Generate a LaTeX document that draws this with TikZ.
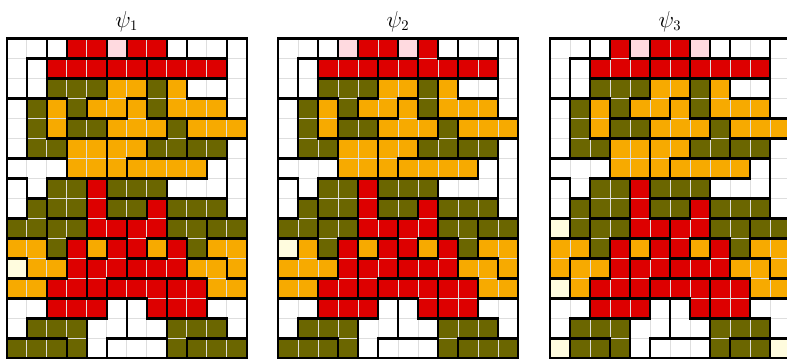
\documentclass[tikz,border=0pt]{standalone}
\usepackage{amsmath}
\usepackage{tikz}

\definecolor{cW}{RGB}{255,255,255}
\definecolor{cR}{RGB}{221,0,0}
\definecolor{cO}{RGB}{107,102,0}
\definecolor{cY}{RGB}{247,170,0}
\definecolor{cP}{RGB}{255,218,224}
\definecolor{cL}{RGB}{255,252,222}

\tikzset{
  cell/.style={draw=black!13, line width=0.4pt},
  tileline/.style={line width=1.8pt, line cap=rect},
  title/.style={anchor=base, font=\fontsize{16}{19}\selectfont},
}

% one square of a grid: x origin, row, column, colour letter
\newcommand\putcell[4]{\filldraw[cell, fill=c#4] (#1+20*#3-20, 18.3+20*#2) rectangle ++(20,20);}
% thick tile edges: right side / lower side of a square
\newcommand\tilev[3]{\draw[tileline] (#1+20*#3, 18.3+20*#2) -- ++(0,20);}
\newcommand\tileh[3]{\draw[tileline] (#1+20*#3-20, 38.3+20*#2) -- ++(20,0);}
\newcommand\gridframe[1]{\draw[tileline] (#1, 38.3) rectangle ++(240,320);}

\ExplSyntaxOn
\seq_new:N \l_psi_col_seq
\seq_new:N \l_psi_tile_seq
\str_new:N \l_psi_a_str
\str_new:N \l_psi_t_str
\str_new:N \l_psi_u_str
% #1 x origin, #2 colour rows, #3 tile rows
\NewDocumentCommand \psigrid { m m m }
 {
  \seq_set_from_clist:Nn \l_psi_col_seq {#2}
  \seq_set_from_clist:Nn \l_psi_tile_seq {#3}
  % squares
  \int_step_inline:nn {16}
   {
    \str_set:Nx \l_psi_a_str { \seq_item:Nn \l_psi_col_seq {##1} }
    \int_step_inline:nn {12}
     {
      \use:x { \exp_not:N \putcell {#1} {##1} {####1} { \str_item:Nn \l_psi_a_str {####1} } }
     }
   }
  % tile edges
  \int_step_inline:nn {16}
   {
    \str_set:Nx \l_psi_t_str { \seq_item:Nn \l_psi_tile_seq {##1} }
    \str_set:Nx \l_psi_u_str { \seq_item:Nn \l_psi_tile_seq {##1+1} }
    \int_step_inline:nn {12}
     {
      \int_compare:nNnT {####1} < {12}
       {
        \str_if_eq:eeF { \str_item:Nn \l_psi_t_str {####1} } { \str_item:Nn \l_psi_t_str {####1+1} }
         { \tilev {#1} {##1} {####1} }
       }
      \int_compare:nNnT {##1} < {16}
       {
        \str_if_eq:eeF { \str_item:Nn \l_psi_t_str {####1} } { \str_item:Nn \l_psi_u_str {####1} }
         { \tileh {#1} {##1} {####1} }
       }
     }
   }
  \gridframe {#1}
 }
\ExplSyntaxOff

\begin{document}
\begin{tikzpicture}[x=0.75pt, y=-0.75pt]
  \useasboundingbox (0,0) rectangle (787,358);
  \clip (0,0) rectangle (787,358);
  % Titles
  \node[title] (t1) at (126.7,27.5) {$\psi_1$};
  \node[title] (t2) at (398,27.5) {$\psi_2$};
  \node[title] (t3) at (670,27.5) {$\psi_3$};
  % Grids: colour rows, then tile rows
  \psigrid{6.7}{
    WWWRRPRRWWWW, WWRRRRRRRRRW, WWOOOYYOYWWW, WOYOYYYOYYYW,
    WOYOOYYYOYYY, WOOYYYYOOOOW, WWWYYYYYYYWW, WWOOROOOWWWW,
    WOOOROOROOOW, OOOORRRROOOO, YYORYRRYROYY, LYYRRRRRRYYY,
    YYRRRRRRRRYY, WWRRRWWRRRWW, WOOOWWWWOOOW, OOOOWWWWOOOO}{
    aabccpddeffg, ahiiijjkkkkg, ahlllvvqxmmg, Coulvvwqxxxg,
    Counnwwwsyyy, CoozzAAssttF, DDDzzABBBBGF, EDIITLLLGGGF,
    EJIITMMUQQQF, JJKKTTUUSSRR, NNK13VU4XSPP, 5NN1VVXXXHHP,
    OO11VYYYZZHH, 6622290YZZcc, 67779900dddc, 88879rrrdeee}
  \psigrid{278}{
    WWWPRRPRWWWW, WWRRRRRRRRRW, WWOOOYYOYWWW, WOYOYYYOYYYW,
    WOYOOYYYOYYY, WOOYYYYOOOOW, WWWYYYYYYYWW, WWOOROOOWWWW,
    WOOOROOROOOW, OOOORRRROOOO, LYORYRRYROYY, YYYRRRRRRYYY,
    YYRRRRRRRRYY, WWRRRWWRRRWW, WOOOWWWWOOOW, OOOOWWWWOOOO}{
    aabpccPkeffg, ahiiijjkkKKg, ahlllvvqxmmg, Coulvvwqxxxg,
    Counnwwwsyyy, CoozzAAssttF, DDDzzABBBBGF, EDIITLLLGGGF,
    EJIITMMUQQQF, JJKKTTUUSSRR, 5NK13VU4XSPP, NNN1VVXXXHHP,
    OO11VYYYZZHH, 6622290YZZcc, 67779900dddc, 88879rrrdeee}
  \psigrid{550}{
    WWWRPRRPWWWW, WWRRRRRRRRRW, WWOOOYYOYWWW, WOYOYYYOYYYW,
    WOYOOYYYOYYY, WOOYYYYOOOOW, WWWYYYYYYYWW, WWOOROOOWWWW,
    WOOOROOROOOW, LOOORRRROOOO, YYORYRRYROYY, YYYRRRRRRYYY,
    LYRRRRRRRRYY, WWRRRWWRRRWW, WOOOWWWWOOOW, LOOOWWWWOOOL}{
    aabipccPeffg, ahiiijjkkkkg, ahlllvvqxmmg, Coulvvwqxxxg,
    Counnwwwsyyy, CoozzAAssttF, DDDzzABBBBGF, EDIITLLLGGGF,
    EJIITMMUQQQF, 5JKKTTUUSSRR, NNK13VU4XSPP, Nnn1VVXXXHHP,
    5n11VYYYZZHH, 6622290YZZcc, 67779900dddc, 58879rrrdee5}
\end{tikzpicture}
\end{document}
